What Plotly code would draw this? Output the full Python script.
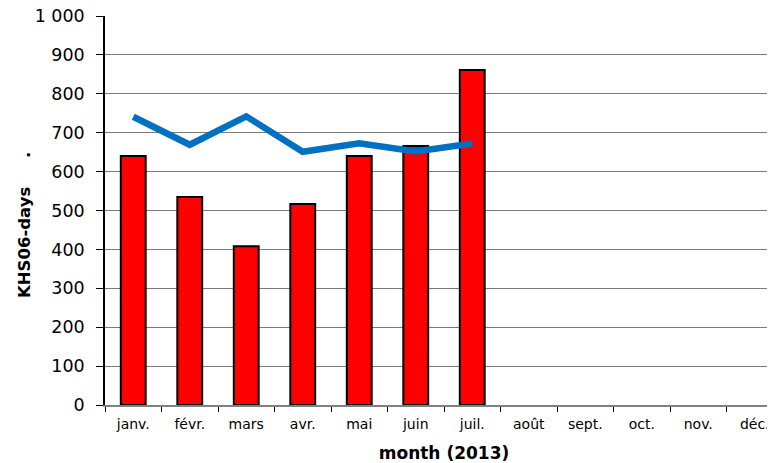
import plotly.graph_objects as go

months = ["janv.", "févr.", "mars", "avr.", "mai", "juin", "juil.", "août", "sept.", "oct.", "nov.", "déc."]
bar_values = [640, 535, 408, 517, 640, 666, 861, None, None, None, None, None]
line_values = [741, 669, 742, 651, 673, 652, 672, None, None, None, None, None]
y_ticks = [0, 100, 200, 300, 400, 500, 600, 700, 800, 900, 1000]
y_title = "KHS06-days" + "\u00a0" * 5 + "." + "\u00a0" * 5
x_title = "month (2013)"

fig = go.Figure()
fig.add_trace(go.Bar(
    x=months, y=bar_values,
    marker=dict(color="#FF0000", line=dict(color="#000000", width=2)),
    width=0.44, showlegend=False,
))
fig.add_trace(go.Scatter(
    x=months, y=line_values, mode="lines",
    line=dict(color="#0070C0", width=6.5), showlegend=False,
))

font_family = "DejaVu Sans, Arial, sans-serif"
fig.update_layout(
    width=775, height=463,
    margin=dict(l=97, r=0, t=8, b=66, autoexpand=False),
    paper_bgcolor="white", plot_bgcolor="white",
    separators=", ",
    font=dict(family=font_family, color="#000000"),
)
fig.update_xaxes(
    type="category", range=[-0.5, 11.5], automargin=False,
    tickson="boundaries", ticks="outside", ticklen=5, tickcolor="#000000",
    showline=True, linecolor="#808080", linewidth=1.5,
    showgrid=False, tickfont=dict(size=14), ticklabelstandoff=5,
    ticklabeloverflow="allow",
    title=dict(text="<b>" + x_title + "</b>", font=dict(size=17), standoff=17),
)
fig.update_yaxes(
    range=[0, 1000], tickvals=y_ticks, tickformat=",d", automargin=False,
    ticks="outside", ticklen=7, tickcolor="#000000",
    showline=True, linecolor="#000000", linewidth=1.5,
    showgrid=True, gridcolor="#7a7a7a", gridwidth=1,
    zeroline=False, tickfont=dict(size=17.5), ticklabelstandoff=8,
    ticklabeloverflow="allow",
    title=dict(text="<b>" + y_title + "</b>", font=dict(size=16.5), standoff=0),
)
fig.write_html("out.html")
